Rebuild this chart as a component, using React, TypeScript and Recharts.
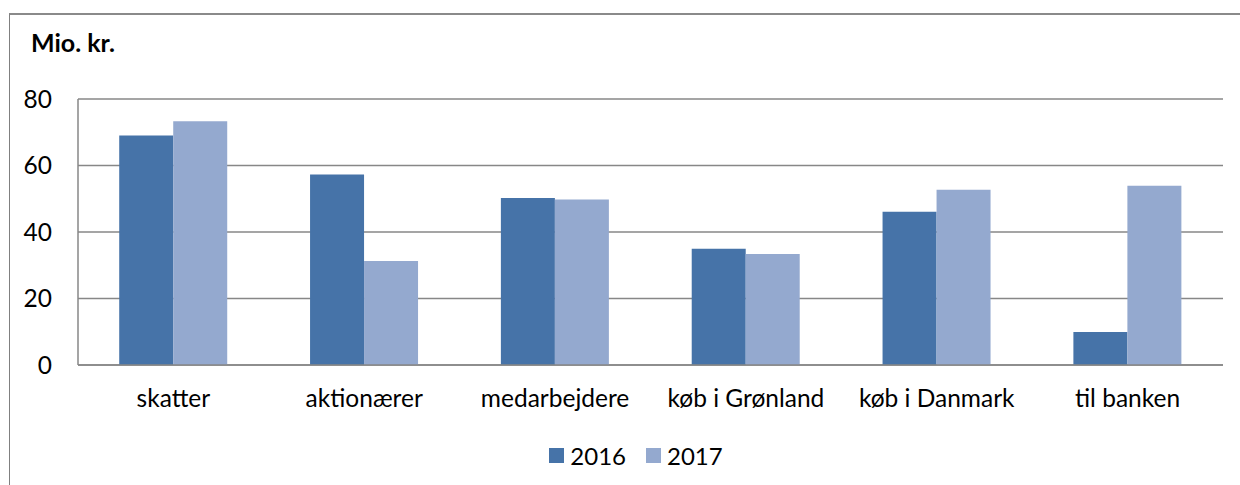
import React from "react";
import { BarChart, Bar, XAxis, YAxis, CartesianGrid, Legend } from "recharts";

const categories = ["skatter", "aktionærer", "medarbejdere", "køb i Grønland", "køb i Danmark", "til banken"];
const values2016 = [69.0, 57.3, 50.2, 35.0, 46.1, 9.9];
const values2017 = [73.3, 31.3, 49.8, 33.4, 52.7, 53.9];
const yTicks = [0, 20, 40, 60, 80];
const seriesNames = ["2016", "2017"];
const colors = ["#4673A8", "#94A9CF"];

const data = categories.map((c, i) => ({ name: c, v2016: values2016[i], v2017: values2017[i] }));

const FONT = "Lato, 'Open Sans', sans-serif";

const renderLegend = () => (
  <div style={{ display: "flex", justifyContent: "center", alignItems: "center", paddingTop: 16, paddingLeft: 49, fontFamily: FONT, fontSize: 24, color: "#000" }}>
    {seriesNames.map((n, i) => (
      <div key={n} style={{ display: "flex", alignItems: "center", marginRight: i === 0 ? 20 : 0 }}>
        <div style={{ width: 15, height: 15, background: colors[i], marginRight: 6 }} />
        <span>{n}</span>
      </div>
    ))}
  </div>
);

export default function App() {
  return (
    <div style={{ position: "absolute", left: 0, top: 0, width: 1240, height: 485, background: "#fff", overflow: "hidden" }}>
      <div style={{ position: "absolute", left: 9, top: 13, width: 1300, height: 600, borderLeft: "1px solid #808080", borderTop: "2px solid #8a8a8a" }} />
      <div style={{ position: "absolute", left: 31, top: 27, fontFamily: FONT, fontWeight: 700, fontSize: 25, color: "#000" }}>Mio. kr.</div>
      <div style={{ position: "absolute", left: 0, top: 0 }}>
        <BarChart width={1240} height={485} data={data} margin={{ top: 99, right: 17, left: 0, bottom: 0 }} barCategoryGap="21.6%" barGap={0}>
          <CartesianGrid vertical={false} stroke="#878787" strokeWidth={1.5} />
          <XAxis dataKey="name" height={60} tickSize={0} tickMargin={25} axisLine={{ stroke: "#878787", strokeWidth: 1.5 }} tick={{ fill: "#000", fontFamily: FONT, fontSize: 24.5 }} interval={0} />
          <YAxis width={78} domain={[0, 80]} ticks={yTicks} tickSize={0} tickMargin={26} axisLine={{ stroke: "#878787", strokeWidth: 1.5 }} tick={{ fill: "#000", fontFamily: FONT, fontSize: 24.5 }} />
          <Legend verticalAlign="bottom" height={60} content={renderLegend} />
          <Bar dataKey="v2016" name={seriesNames[0]} fill={colors[0]} isAnimationActive={false} />
          <Bar dataKey="v2017" name={seriesNames[1]} fill={colors[1]} isAnimationActive={false} />
        </BarChart>
      </div>
    </div>
  );
}
